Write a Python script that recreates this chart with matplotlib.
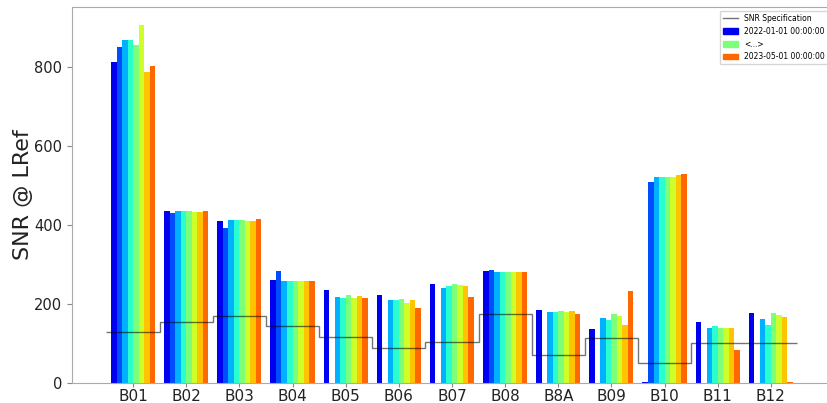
import numpy as np
import matplotlib
matplotlib.use("Agg")
import matplotlib.pyplot as plt
from matplotlib.patches import Patch
from matplotlib.lines import Line2D

bands = ["B01", "B02", "B03", "B04", "B05", "B06", "B07", "B08", "B8A", "B09", "B10", "B11", "B12"]
spec = [128, 155, 170, 143, 117, 89, 105, 174, 71, 113, 50, 100, 100]

nan = np.nan
# one row per band, one value per acquisition date (8 dates)
snr = [
    [811, 849, 869, 867, 854, 906, 787, 803],   # B01
    [435, 429, 434, 434, 434, 433, 432, 435],   # B02
    [411, 392, 413, 412, 412, 411, 411, 416],   # B03
    [261, 284, 258, 258, 258, 258, 259, 259],   # B04
    [235, nan, 218, 216, 222, 216, 221, 214],   # B05
    [223, nan, 209, 209, 213, 203, 209, 189],   # B06
    [251, nan, 241, 246, 251, 248, 246, 217],   # B07
    [283, 285, 282, 281, 281, 281, 282, 282],   # B08
    [184, nan, 179, 180, 183, 180, 181, 175],   # B8A
    [137, nan, 164, 160, 174, 170, 147, 233],   # B09
    [2, 508, 522, 522, 522, 520, 526, 530],     # B10
    [155, nan, 138, 143, 140, 140, 138, 84],    # B11
    [178, nan, 163, 147, 178, 171, 166, 2],     # B12
]
legend_labels = ["2022-01-01 00:00:00", "<...>", "2023-05-01 00:00:00"]

snr = np.array(snr, dtype=float)
n_dates = snr.shape[1]
colors = plt.cm.jet(np.linspace(0.1, 0.8, n_dates))
x = np.arange(len(bands))
w = 0.83 / n_dates

fig = plt.figure(figsize=(8.27, 4.03), dpi=100)
ax = fig.add_axes([0.087, 0.0496, 0.919, 0.933])

for i in range(n_dates):
    ax.bar(x - 0.415 + w * (i + 0.5), snr[:, i], width=w, color=colors[i])

ax.stairs(spec, np.arange(len(bands) + 1) - 0.5, baseline=None, color="k", alpha=0.55, lw=1.0)
ax.margins(x=0.05)

ax.set_xticks(x)
ax.set_xticklabels(bands, fontsize=11, color="#222222")
ax.set_yticks([0, 200, 400, 600, 800])
ax.tick_params(axis="y", labelsize=10.5, labelcolor="#222222", color="#888888")
ax.tick_params(axis="x", color="#888888", length=3, pad=1.5)
ax.set_ylabel("SNR @ LRef", fontsize=16, color="#222222", labelpad=1)
for s in ax.spines.values():
    s.set_color("#aaaaaa")

handles = [Line2D([], [], color="k", alpha=0.55, lw=1.0),
           Patch(color=colors[0]), Patch(color=colors[n_dates // 2]), Patch(color=colors[-1])]
ax.legend(handles, ["SNR Specification"] + legend_labels, loc="upper right", fontsize=5.5)

fig.savefig("out.png", dpi=100)
